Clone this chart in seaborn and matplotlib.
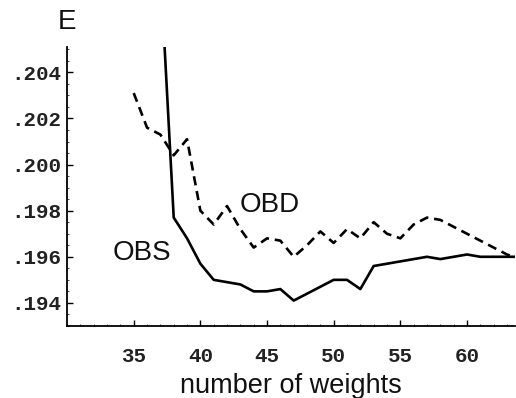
import pandas as pd
import seaborn as sns
import matplotlib.pyplot as plt
from matplotlib.ticker import MultipleLocator

# values
obs_weights = list(range(37, 65))
obs_error = [0.2085, 0.1977, 0.1968, 0.1957, 0.1950, 0.1949, 0.1948, 0.1945,
             0.1945, 0.1946, 0.1941, 0.1944, 0.1947, 0.1950, 0.1950, 0.1946,
             0.1956, 0.1957, 0.1958, 0.1959, 0.1960, 0.1959, 0.1960, 0.1961,
             0.1960, 0.1960, 0.1960, 0.1960]

obd_weights = list(range(35, 65))
obd_error = [0.2031, 0.2016, 0.2013, 0.2004, 0.2011, 0.1980, 0.1974, 0.1982,
             0.1972, 0.1964, 0.1968, 0.1967, 0.1960, 0.1965, 0.1971, 0.1966,
             0.1972, 0.1968, 0.1975, 0.1970, 0.1968, 0.1974, 0.1977, 0.1976,
             0.1973, 0.1970, 0.1967, 0.1964, 0.1961, 0.1959]

yticks = [0.194, 0.196, 0.198, 0.200, 0.202, 0.204]
ytick_labels = [".194", ".196", ".198", ".200", ".202", ".204"]
xticks = [35, 40, 45, 50, 55, 60]

df = pd.concat([
    pd.DataFrame({"weights": obs_weights, "E": obs_error, "method": "OBS"}),
    pd.DataFrame({"weights": obd_weights, "E": obd_error, "method": "OBD"}),
])

sns.set_style("ticks")
plt.rcParams["font.family"] = ["Liberation Sans", "DejaVu Sans"]

fig = plt.figure(figsize=(5.16, 3.98), dpi=100)
ax = fig.add_axes([0.130, 0.181, 0.868, 0.701])

sns.lineplot(data=df, x="weights", y="E", style="method",
             dashes={"OBS": "", "OBD": (3.5, 2.2)},
             color="black", linewidth=1.9, legend=False, ax=ax)

ax.set_xlim(30, 63.6)
ax.set_ylim(0.193, 0.2051)
sns.despine(ax=ax)
for s in ("left", "bottom"):
    ax.spines[s].set_linewidth(1.3)
    ax.spines[s].set_color("black")

ax.set_xticks(xticks)
ax.set_xticklabels([str(t) for t in xticks], family="Liberation Mono",
                   fontsize=15, fontweight="bold", color="#222222")
ax.set_yticks(yticks)
ax.set_yticklabels(ytick_labels, family="Liberation Mono",
                   fontsize=15, fontweight="bold", color="#222222")
ax.xaxis.set_minor_locator(MultipleLocator(1))
ax.yaxis.set_minor_locator(MultipleLocator(0.0005))
ax.tick_params(axis="both", which="major", direction="in", length=4, width=1, color="black")
ax.tick_params(axis="both", which="minor", direction="in", length=1.5, width=0.7, color="#444444")
ax.tick_params(axis="x", which="major", pad=15)
ax.tick_params(axis="y", which="major", pad=4)

ax.set_xlabel("number of weights", fontsize=19.5, labelpad=5, color="#111111")
ax.set_ylabel("")
fig.text(67 / 516, 1 - 22 / 398, "E", fontsize=20, ha="center", va="center", color="#111111")

ax.text(35.6, 0.19616, "OBS", fontsize=20, ha="center", va="center", color="#111111")
ax.text(45.2, 0.19826, "OBD", fontsize=20, ha="center", va="center", color="#111111")

plt.savefig("out.png", dpi=100)
